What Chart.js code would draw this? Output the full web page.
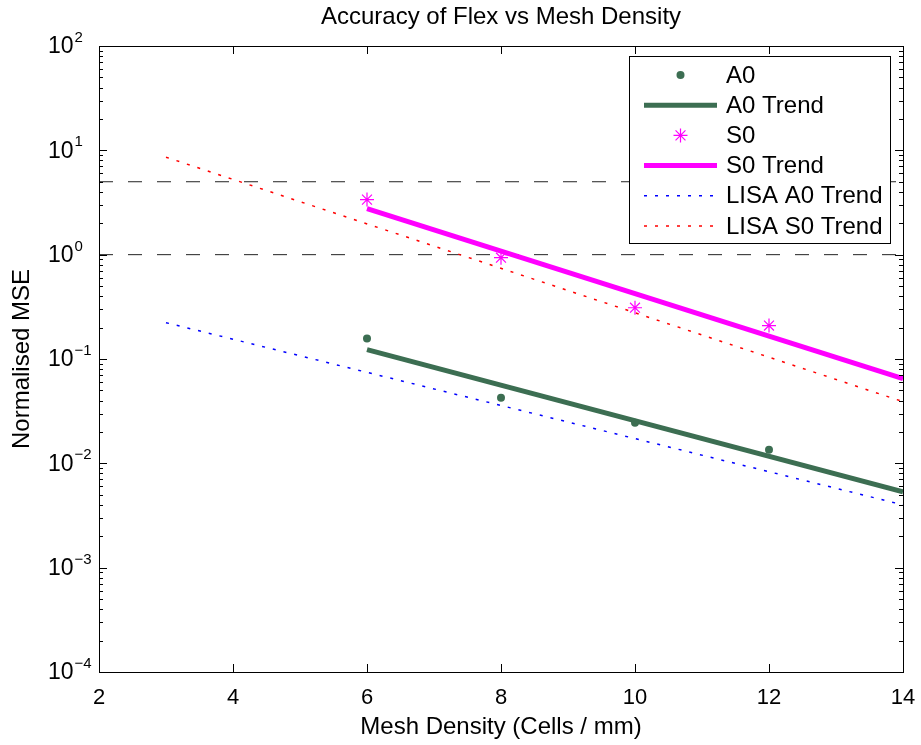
<!DOCTYPE html>
<html lang="en">
<head>
    <meta charset="UTF-8">
    <title>Accuracy of Flex vs Mesh Density</title>
    <script src="https://cdn.jsdelivr.net/npm/chart.js@4.4.0/dist/chart.umd.min.js"></script>
    <style>
        body { margin: 0; background: white; }
        canvas { display: block; }
    </style>
</head>
<body>
    <canvas id="mseChart" width="921" height="745"></canvas>

    <script>
        // data
        const meshDensity = [6, 8, 10, 12];
        const a0Values = [0.157, 0.0426, 0.0245, 0.0135];
        const s0Values = [3.37, 0.935, 0.31, 0.209];

        const trendX = [6, 14];
        const a0Trend = [0.123, 0.00534];
        const s0Trend = [2.76, 0.0647];

        const lisaX = [3, 14];
        const lisaA0Trend = [0.223, 0.0040];
        const lisaS0Trend = [8.6, 0.039];

        const limitX = [2, 14];
        const limits = [5, 1];

        const xTicks = [2, 4, 6, 8, 10, 12, 14];
        const yExponents = [-4, -3, -2, -1, 0, 1, 2];

        const FONT = "'Liberation Sans', Arial, sans-serif";
        const green = '#3c6e52';
        const magenta = '#ff00ff';

        const pts = (xs, ys) => xs.map((x, i) => ({ x: x, y: ys[i] }));

        const datasets = [
            { label: 'A0', data: pts(meshDensity, a0Values), showLine: false,
              pointStyle: 'circle', pointRadius: 4, backgroundColor: green, borderColor: green, borderWidth: 0 },
            { label: 'A0 Trend', data: pts(trendX, a0Trend), showLine: true, pointRadius: 0,
              borderColor: green, borderWidth: 5 },
            { label: 'S0', data: pts(meshDensity, s0Values), showLine: false,
              pointStyle: 'star', pointRadius: 7, borderColor: magenta, backgroundColor: magenta, pointBorderWidth: 1.2 },
            { label: 'S0 Trend', data: pts(trendX, s0Trend), showLine: true, pointRadius: 0,
              borderColor: magenta, borderWidth: 5 },
            { label: 'LISA A0 Trend', data: pts(lisaX, lisaA0Trend), showLine: true, pointRadius: 0,
              borderColor: '#0000ff', borderWidth: 1.5, borderDash: [3, 8] },
            { label: 'LISA S0 Trend', data: pts(lisaX, lisaS0Trend), showLine: true, pointRadius: 0,
              borderColor: '#ff0000', borderWidth: 1.5, borderDash: [3, 8] }
        ];
        limits.forEach(v => {
            datasets.push({ label: '', data: pts(limitX, [v, v]), showLine: true, pointRadius: 0,
                borderColor: '#222', borderWidth: 1, borderDash: [14, 15] });
        });

        // box, inward ticks, y labels with exponents, title and legend
        const decorations = {
            id: 'decorations',
            afterDraw(chart) {
                const ctx = chart.ctx;
                const a = chart.chartArea;
                const xs = chart.scales.x, ys = chart.scales.y;
                ctx.save();
                ctx.strokeStyle = '#000';
                ctx.lineWidth = 1;
                ctx.strokeRect(a.left + 0.5, a.top + 0.5, a.right - a.left, a.bottom - a.top);

                ctx.beginPath();
                xTicks.forEach(t => {
                    const px = Math.round(xs.getPixelForValue(t)) + 0.5;
                    ctx.moveTo(px, a.bottom); ctx.lineTo(px, a.bottom - 8);
                    ctx.moveTo(px, a.top); ctx.lineTo(px, a.top + 8);
                });
                yExponents.forEach(e => {
                    for (let k = 1; k <= 9; k++) {
                        const v = k * Math.pow(10, e);
                        if (v > 100) break;
                        const py = Math.round(ys.getPixelForValue(v)) + 0.5;
                        const len = k === 1 ? 8 : 4;
                        ctx.moveTo(a.left, py); ctx.lineTo(a.left + len, py);
                        ctx.moveTo(a.right, py); ctx.lineTo(a.right - len, py);
                    }
                });
                ctx.stroke();

                // y tick labels, left aligned like the original
                ctx.fillStyle = '#000';
                ctx.textBaseline = 'middle';
                ctx.textAlign = 'left';
                yExponents.forEach(e => {
                    const py = ys.getPixelForValue(Math.pow(10, e));
                    const exp = e < 0 ? '\u2212' + (-e) : String(e);
                    ctx.font = '23px ' + FONT;
                    const bw = ctx.measureText('10').width;
                    ctx.fillText('10', 48, py + 1);
                    ctx.font = '15px ' + FONT;
                    ctx.fillText(exp, 48 + bw + 1, py - 8);
                });

                // title
                ctx.font = '24px ' + FONT;
                ctx.textAlign = 'center';
                ctx.fillText('Accuracy of Flex vs Mesh Density', (a.left + a.right) / 2, 17);

                // legend
                const lx = a.right - 274, ly = a.top + 10, lw = 261, lh = 187;
                ctx.fillStyle = '#fff';
                ctx.fillRect(lx, ly, lw, lh);
                ctx.strokeStyle = '#000';
                ctx.strokeRect(lx + 0.5, ly + 0.5, lw, lh);
                chart.data.datasets.slice(0, 6).forEach((ds, i) => {
                    const cy = ly + 19 + i * 30.2;
                    const x0 = lx + 15, x1 = lx + 88, xm = (x0 + x1) / 2;
                    ctx.save();
                    ctx.strokeStyle = ds.borderColor;
                    if (ds.showLine) {
                        ctx.lineWidth = ds.borderWidth;
                        ctx.setLineDash(ds.borderDash || []);
                        ctx.beginPath();
                        ctx.moveTo(x0, cy); ctx.lineTo(x1, cy);
                        ctx.stroke();
                    } else if (ds.pointStyle === 'circle') {
                        ctx.fillStyle = ds.backgroundColor;
                        ctx.beginPath();
                        ctx.arc(xm, cy, ds.pointRadius, 0, Math.PI * 2);
                        ctx.fill();
                    } else {
                        ctx.lineWidth = ds.pointBorderWidth || 1;
                        Chart.helpers.drawPoint(ctx, {
                            pointStyle: ds.pointStyle, radius: ds.pointRadius, borderWidth: ds.pointBorderWidth || 1
                        }, xm, cy);
                    }
                    ctx.restore();
                    ctx.fillStyle = '#000';
                    ctx.font = '24px ' + FONT;
                    ctx.textAlign = 'left';
                    ctx.textBaseline = 'middle';
                    ctx.fillText(ds.label, lx + 97, cy + 1);
                });
                ctx.restore();
            }
        };

        new Chart(document.getElementById('mseChart'), {
            type: 'scatter',
            data: { datasets: datasets },
            options: {
                responsive: false,
                animation: false,
                layout: { padding: { top: 46, right: 18, left: 0, bottom: 0 } },
                plugins: { legend: { display: false }, tooltip: { enabled: false } },
                scales: {
                    x: {
                        type: 'linear', min: 2, max: 14,
                        grid: { display: false, drawTicks: false },
                        border: { display: false },
                        afterBuildTicks: s => { s.ticks = xTicks.map(v => ({ value: v })); },
                        afterFit: s => { s.height = 73; s.paddingLeft = 0; s.paddingRight = 0; },
                        ticks: { color: '#000', padding: 13, font: { family: FONT, size: 22 } },
                        title: { display: true, text: 'Mesh Density (Cells / mm)', color: '#000',
                                 font: { family: FONT, size: 24 }, padding: { top: 0, bottom: 3 } }
                    },
                    y: {
                        type: 'logarithmic', min: 1e-4, max: 1e2,
                        grid: { display: false, drawTicks: false },
                        border: { display: false },
                        afterBuildTicks: s => { s.ticks = yExponents.map(e => ({ value: Math.pow(10, e) })); },
                        afterFit: s => { s.width = 99; s.paddingTop = 0; s.paddingBottom = 0; },
                        ticks: { display: false },
                        title: { display: true, text: 'Normalised MSE', color: '#000',
                                 font: { family: FONT, size: 24 }, padding: { top: 8, bottom: 0 } }
                    }
                }
            },
            plugins: [decorations]
        });
    </script>
</body>
</html>
